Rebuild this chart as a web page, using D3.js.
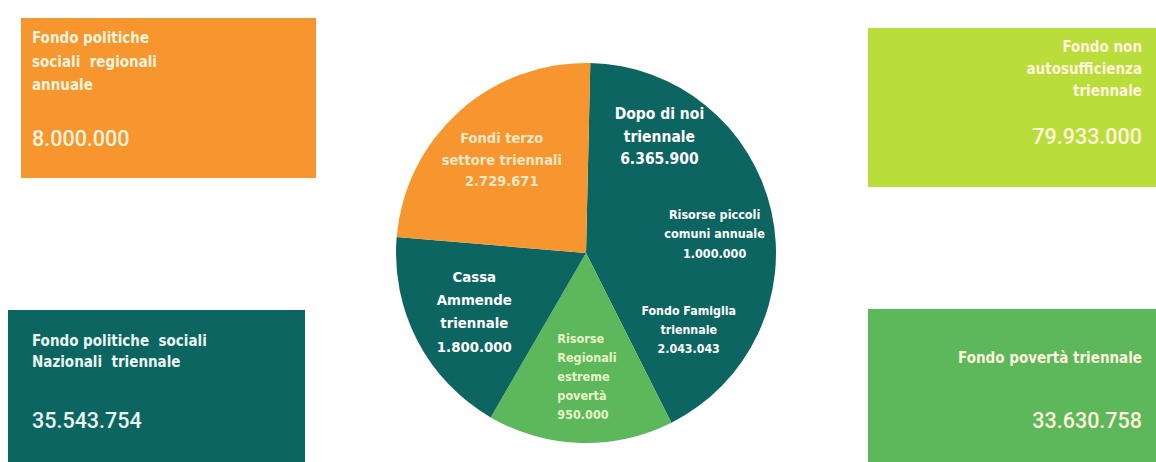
<!DOCTYPE html>
<html>
<head>
<meta charset="utf-8">
<script src="https://cdn.jsdelivr.net/npm/d3@7"></script>
<style>
  body { margin: 0; background: #fff; }
  svg { display: block; }
  .lbl { font-family: "DejaVu Sans Condensed", "DejaVu Sans", sans-serif; font-stretch: condensed; font-weight: bold; }
  .val { font-family: Roboto, "Liberation Sans", sans-serif; font-weight: 500; }
</style>
</head>
<body>
<div id="chart"></div>
<script>
// slices of the pie, in drawing order (clockwise from 12 o'clock)
const sliceNames = [
  ["Dopo di noi", "triennale"],
  ["Risorse piccoli", "comuni annuale"],
  ["Fondo Famiglia", "triennale"],
  ["Risorse", "Regionali", "estreme", "povertà"],
  ["Cassa", "Ammende", "triennale"],
  ["Fondi terzo", "settore triennali"]
]
const sliceValues = ["6.365.900", "1.000.000", "2.043.043", "950.000", "1.800.000", "2.729.671"]
// the original infographic is not proportional: share of the circle (degrees) as drawn
const sliceShare = [61.7, 37, 53.3, 56.8, 64.7, 86.5]
const sliceGroup = ["teal", "teal", "teal", "green", "teal", "orange"]

// the four side boxes
const boxNames = [
  ["Fondo politiche", "sociali  regionali", "annuale"],
  ["Fondo non", "autosufficienza", "triennale"],
  ["Fondo politiche  sociali", "Nazionali  triennale"],
  ["Fondo povertà triennale"]
]
const boxValues = ["8.000.000", "79.933.000", "35.543.754", "33.630.758"]
const boxGroup = ["orange", "lime", "teal", "green"]

const W = 1156, H = 462
const colors = { orange: "#F7952F", teal: "#0D6562", green: "#5CB85B", lime: "#B9DE3C" }
const pieText = { orange: "#F8E8C6", teal: "#FFFFFF", green: "#E8F4C8" }

const svg = d3.select("#chart").append("svg")
  .attr("width", W)
  .attr("height", H)

// boxes: corners, alignment, label baselines, value baseline
const boxLayout = [
  { x0: 21, y0: 18, x1: 316, y1: 178, right: false, lines: [43, 67, 90], vy: 146 },
  { x0: 868, y0: 28, x1: 1156, y1: 187, right: true, lines: [52, 74, 96], vy: 144 },
  { x0: 8, y0: 310, x1: 305, y1: 462, right: false, lines: [346, 367], vy: 428 },
  { x0: 868, y0: 309, x1: 1156, y1: 462, right: true, lines: [363], vy: 428 }
]

boxLayout.forEach((b, i) => {
  const g = svg.append("g")
  g.append("rect")
    .attr("x", b.x0).attr("y", b.y0)
    .attr("width", b.x1 - b.x0).attr("height", b.y1 - b.y0)
    .attr("fill", colors[boxGroup[i]])
  const tx = b.right ? 1142 : 32
  const anchor = b.right ? "end" : "start"
  const fill = boxGroup[i] == "teal" ? "#EAF6F0" : "#FFF4DC"
  g.selectAll("text.lbl")
    .data(boxNames[i])
    .enter().append("text")
    .attr("class", "lbl")
    .attr("x", tx)
    .attr("y", (d, j) => b.lines[j])
    .attr("text-anchor", anchor)
    .attr("font-size", 15)
    .attr("fill", fill)
    .style("white-space", "pre")
    .text(d => d)
  g.append("text")
    .attr("class", "val")
    .attr("x", tx)
    .attr("y", b.vy)
    .attr("text-anchor", anchor)
    .attr("font-size", 21.5)
    .attr("fill", fill)
    .text(boxValues[i])
})

// pie
const cx = 586, cy = 253, R = 190
const rad = d => d * Math.PI / 180
const pie = d3.pie()
  .sort(null)
  .value(d => d)
  .startAngle(rad(1.3))
  .endAngle(rad(361.3))
const arcs = pie(sliceShare)
const arc = d3.arc().innerRadius(0).outerRadius(R)

// neighbouring slices of one colour are filled as a single wedge (no seams)
const wedges = []
arcs.forEach((a, i) => {
  const last = wedges[wedges.length - 1]
  if (last && last.group == sliceGroup[i]) last.endAngle = a.endAngle
  else wedges.push({ group: sliceGroup[i], startAngle: a.startAngle, endAngle: a.endAngle })
})

const pg = svg.append("g").attr("transform", `translate(${cx},${cy})`)

pg.selectAll("path")
  .data(wedges)
  .enter().append("path")
  .attr("d", arc)
  .attr("fill", d => colors[d.group])

const fontSizes = [15.5, 12.5, 12.3, 12.5, 14.8, 14.5]
const lineH = [22.5, 19.5, 19, 19, 23.3, 21.5]
const labelR = [138, 130, 128, 124, 126, 126]

arcs.forEach((a, i) => {
  const [lx, ly] = d3.arc().innerRadius(labelR[i]).outerRadius(labelR[i]).centroid(a)
  const lines = sliceNames[i].concat([sliceValues[i]])
  const fs = fontSizes[i]
  const lh = lineH[i]
  const first = ly - (lines.length - 1) * lh / 2 + fs * 0.36
  const isGreen = sliceGroup[i] == "green"
  pg.selectAll(null)
    .data(lines)
    .enter().append("text")
    .attr("class", "lbl")
    .attr("x", isGreen ? lx - 25 : lx)
    .attr("y", (d, j) => first + j * lh)
    .attr("text-anchor", isGreen ? "start" : "middle")
    .attr("font-size", fs)
    .attr("fill", pieText[sliceGroup[i]])
    .text(d => d)
})
</script>
</body>
</html>
